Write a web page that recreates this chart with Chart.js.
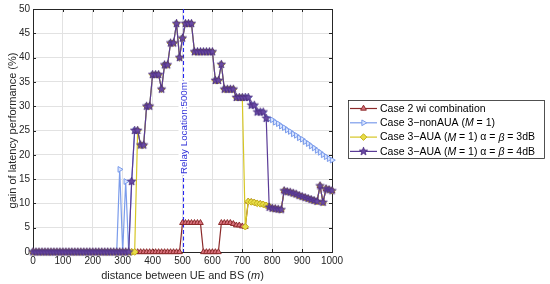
<!DOCTYPE html>
<html>
<head>
<meta charset="utf-8">
<script src="https://cdn.jsdelivr.net/npm/chart.js@4.4.1/dist/chart.umd.min.js"></script>
<style>
  html, body { margin: 0; padding: 0; background: #fff; }
  #wrap { width: 550px; height: 284px; }
</style>
</head>
<body>
<div id="wrap"><canvas id="chart" width="550" height="284"></canvas></div>
<script>
// distance between UE and BS (m), one sample every 10 m
const distances = [
  0, 10, 20, 30, 40, 50, 60, 70, 80, 90,
  100, 110, 120, 130, 140, 150, 160, 170, 180, 190,
  200, 210, 220, 230, 240, 250, 260, 270, 280, 290,
  300, 310, 320, 330, 340, 350, 360, 370, 380, 390,
  400, 410, 420, 430, 440, 450, 460, 470, 480, 490,
  500, 510, 520, 530, 540, 550, 560, 570, 580, 590,
  600, 610, 620, 630, 640, 650, 660, 670, 680, 690,
  700, 710, 720, 730, 740, 750, 760, 770, 780, 790,
  800, 810, 820, 830, 840, 850, 860, 870, 880, 890,
  900, 910, 920, 930, 940, 950, 960, 970, 980, 990,
  1000
];

// gain of latency performance (%)
const case2Combination = [
  0, 0, 0, 0, 0, 0, 0, 0, 0, 0,
  0, 0, 0, 0, 0, 0, 0, 0, 0, 0,
  0, 0, 0, 0, 0, 0, 0, 0, 0, 0,
  0, 0, 0, 0, 0, 0, 0, 0, 0, 0,
  0, 0, 0, 0, 0, 0, 0, 0, 0, 0,
  6, 6, 6, 6, 6, 6, 6, 0, 0, 0,
  0, 0, 0, 6, 6, 6, 6, 5.8, 5.5, 5.5,
  5.3, 5.2, 10.4, 10.3, 10.2, 10.0, 9.9, 9.8, 9.6, 9.4,
  9.0, 8.9, 8.8, 8.7, 12.6, 12.4, 12.3, 12.1, 11.9, 11.6,
  11.4, 11.2, 11.0, 10.8, 10.6, 10.4, 13.6, 10.2, 13.0, 12.8,
  12.6
];

const case3NonAUA = [
  0, 0, 0, 0, 0, 0, 0, 0, 0, 0,
  0, 0, 0, 0, 0, 0, 0, 0, 0, 0,
  0, 0, 0, 0, 0, 0, 0, 0, 0, 17,
  0, 14.5, 0, 14.5, 25, 25, 22, 22, 30, 30,
  36.5, 36.5, 36.5, 33.5, 38.5, 38.5, 43, 43, 47, 40,
  44, 47, 47, 47, 41.2, 41.2, 41.2, 41.2, 41.2, 41.2,
  41.2, 35.3, 35.3, 38.6, 33.5, 33.5, 33.5, 33.5, 31.8, 31.8,
  31.8, 31.8, 31.8, 30.2, 30.2, 28.8, 28.8, 28.8, 27.5, 27.4,
  27.2, 26.7, 26.4, 25.9, 25.6, 25.1, 24.8, 24.3, 24.0, 23.5,
  23.2, 22.7, 22.3, 21.8, 21.4, 20.9, 20.5, 20.0, 19.6, 19.2,
  18.9
];

const case3AUA3dB = [
  0, 0, 0, 0, 0, 0, 0, 0, 0, 0,
  0, 0, 0, 0, 0, 0, 0, 0, 0, 0,
  0, 0, 0, 0, 0, 0, 0, 0, 0, 0,
  0, 0, 0, 0, 0, 25, 22, 22, 30, 30,
  36.5, 36.5, 36.5, 33.5, 38.5, 38.5, 43, 43, 47, 40,
  44, 47, 47, 47, 41.2, 41.2, 41.2, 41.2, 41.2, 41.2,
  41.2, 35.3, 35.3, 38.6, 33.5, 33.5, 33.5, 33.5, 31.8, 31.8,
  31.8, 5.2, 10.4, 10.3, 10.2, 10.0, 9.9, 9.8, 9.6, 9.4,
  9.0, 8.9, 8.8, 8.7, 12.6, 12.4, 12.3, 12.1, 11.9, 11.6,
  11.4, 11.2, 11.0, 10.8, 10.6, 10.4, 13.6, 10.2, 13.0, 12.8,
  12.6
];

const case3AUA4dB = [
  0, 0, 0, 0, 0, 0, 0, 0, 0, 0,
  0, 0, 0, 0, 0, 0, 0, 0, 0, 0,
  0, 0, 0, 0, 0, 0, 0, 0, 0, 0,
  0, 0, 0, 14.5, 25, 25, 22, 22, 30, 30,
  36.5, 36.5, 36.5, 33.5, 38.5, 38.5, 43, 43, 47, 40,
  44, 47, 47, 47, 41.2, 41.2, 41.2, 41.2, 41.2, 41.2,
  41.2, 35.3, 35.3, 38.6, 33.5, 33.5, 33.5, 33.5, 31.8, 31.8,
  31.8, 31.8, 31.8, 30.2, 30.2, 28.8, 28.8, 28.8, 27.5, 9.2,
  9.0, 8.9, 8.8, 8.7, 12.6, 12.4, 12.3, 12.1, 11.9, 11.6,
  11.4, 11.2, 11.0, 10.8, 10.6, 10.4, 13.6, 10.2, 13.0, 12.8,
  12.6
];

const legendLabels = [
  'Case 2 wi combination',
  'Case 3\u2212nonAUA (<i>M</i> = 1)',
  'Case 3\u2212AUA (<i>M</i> = 1) \u03b1 = <i>\u03b2</i> = 3dB',
  'Case 3\u2212AUA (<i>M</i> = 1) \u03b1 = <i>\u03b2</i> = 4dB'
];

const xTicks = [0, 100, 200, 300, 400, 500, 600, 700, 800, 900, 1000];
const yTicks = [0, 5, 10, 15, 20, 25, 30, 35, 40, 45, 50];
const relayDistance = 500;
const relayText = 'Relay Location:500m';

const FONT = "'Liberation Sans', Arial, Helvetica, sans-serif";
const textColor = '#262626';
const gridColor = '#e2e2e2';

// pentagram marker like MATLAB 'p'
function makeStar(fill, stroke, r) {
  const c = document.createElement('canvas');
  const s = Math.ceil(r * 2 + 2);
  c.width = s; c.height = s;
  const g = c.getContext('2d');
  g.beginPath();
  for (let i = 0; i < 10; i++) {
    const a = -Math.PI / 2 + i * Math.PI / 5;
    const rr = i % 2 ? r * 0.42 : r;
    g.lineTo(s / 2 + rr * Math.cos(a), s / 2 + rr * Math.sin(a));
  }
  g.closePath();
  g.fillStyle = fill;
  g.fill();
  g.strokeStyle = stroke;
  g.lineWidth = 0.8;
  g.stroke();
  return c;
}

const pts = ys => distances.map((d, i) => ({ x: d, y: ys[i] }));

// draw text with <i>..</i> parts in italic
function drawRich(ctx, str, x, y, size) {
  const parts = str.split(/(<i>.*?<\/i>)/).filter(p => p.length);
  parts.forEach(p => {
    const it = p.startsWith('<i>');
    const t = it ? p.slice(3, -4) : p;
    ctx.font = (it ? 'italic ' : '') + size + 'px ' + FONT;
    ctx.fillText(t, x, y);
    x += ctx.measureText(t).width;
  });
}
function richWidth(ctx, str, size) {
  let w = 0;
  str.split(/(<i>.*?<\/i>)/).filter(p => p.length).forEach(p => {
    const it = p.startsWith('<i>');
    const t = it ? p.slice(3, -4) : p;
    ctx.font = (it ? 'italic ' : '') + size + 'px ' + FONT;
    w += ctx.measureText(t).width;
  });
  return w;
}

const decorPlugin = {
  id: 'decor',
  beforeDatasetsDraw(chart) {
    const { ctx, chartArea: a, scales } = chart;
    ctx.save();
    // box
    ctx.strokeStyle = textColor;
    ctx.lineWidth = 1;
    ctx.strokeRect(Math.round(a.left) + 0.5, Math.round(a.top) + 0.5,
      Math.round(a.right - a.left), Math.round(a.bottom - a.top));
    // inward ticks
    ctx.beginPath();
    xTicks.forEach(v => {
      const px = Math.round(scales.x.getPixelForValue(v)) + 0.5;
      ctx.moveTo(px, a.bottom); ctx.lineTo(px, a.bottom - 3);
      ctx.moveTo(px, a.top); ctx.lineTo(px, a.top + 3);
    });
    yTicks.forEach(v => {
      const py = Math.round(scales.y.getPixelForValue(v)) + 0.5;
      ctx.moveTo(a.left, py); ctx.lineTo(a.left + 3, py);
      ctx.moveTo(a.right, py); ctx.lineTo(a.right - 3, py);
    });
    ctx.stroke();

    // relay line
    const rx = Math.round(scales.x.getPixelForValue(relayDistance)) + 0.5;
    ctx.strokeStyle = '#2626f2';
    ctx.lineWidth = 1.1;
    ctx.setLineDash([4, 2.5]);
    ctx.beginPath();
    ctx.moveTo(rx, a.top);
    ctx.lineTo(rx, a.bottom);
    ctx.stroke();
    ctx.setLineDash([]);
    const ty = scales.y.getPixelForValue(25.5);
    ctx.translate(rx, ty);
    ctx.rotate(-Math.PI / 2);
    ctx.font = '9.8px ' + FONT;
    const tw = ctx.measureText(relayText).width;
    ctx.fillStyle = '#fff';
    ctx.fillRect(-tw / 2 - 1, -5, tw + 2, 10);
    ctx.fillStyle = '#3232d8';
    ctx.textAlign = 'center';
    ctx.textBaseline = 'middle';
    ctx.fillText(relayText, 0, 0.5);
    ctx.restore();
  },
  afterDraw(chart) {
    const { ctx, chartArea: a } = chart;
    ctx.save();
    ctx.fillStyle = textColor;
    ctx.textBaseline = 'middle';
    // axis titles
    const xt = 'distance between UE and BS (<i>m</i>)';
    const xw = richWidth(ctx, xt, 11);
    drawRich(ctx, xt, (a.left + a.right) / 2 - xw / 2, 275.5, 11);
    ctx.save();
    ctx.translate(13, (a.top + a.bottom) / 2);
    ctx.rotate(-Math.PI / 2);
    ctx.font = '11px ' + FONT;
    ctx.textAlign = 'center';
    ctx.fillText('gain of latency performance (%)', 0, 0);
    ctx.restore();

    // legend
    const x0 = 348.5, y0 = 100.5, w = 196, h = 58;
    ctx.fillStyle = '#fff';
    ctx.fillRect(x0, y0, w, h);
    ctx.strokeStyle = textColor;
    ctx.lineWidth = 0.8;
    ctx.strokeRect(x0, y0, w, h);
    chart.data.datasets.forEach((ds, k) => {
      const y = y0 + 8 + k * 14.3;
      ctx.strokeStyle = ds.borderColor;
      ctx.lineWidth = ds.borderWidth;
      ctx.beginPath();
      ctx.moveTo(x0 + 1.5, y);
      ctx.lineTo(x0 + 28.5, y);
      ctx.stroke();
      ctx.fillStyle = ds.pointBackgroundColor;
      ctx.strokeStyle = ds.pointBorderColor;
      ctx.lineWidth = 1;
      Chart.helpers.drawPoint(ctx, {
        pointStyle: ds.pointStyle, rotation: ds.pointRotation || 0,
        radius: ds.pointRadius, borderWidth: 1
      }, x0 + 15, y);
      ctx.fillStyle = '#000';
      drawRich(ctx, legendLabels[k], x0 + 31.5, y + 0.5, 10.5);
    });
    ctx.restore();
  }
};

Chart.defaults.font.family = FONT;

new Chart(document.getElementById('chart'), {
  type: 'line',
  data: {
    datasets: [
      {
        label: 'Case 2 wi combination',
        data: pts(case2Combination),
        borderColor: '#8b2a2a', borderWidth: 1.2,
        pointStyle: 'triangle', pointRadius: 3.3,
        pointBorderColor: '#8b2a2a', pointBackgroundColor: '#d9707c',
        pointBorderWidth: 1, order: 4, clip: false
      },
      {
        label: 'Case 3-nonAUA',
        data: pts(case3NonAUA),
        borderColor: '#7b9ceb', borderWidth: 1.2,
        pointStyle: 'triangle', pointRotation: 90, pointRadius: 3.3,
        pointBorderColor: '#7b9ceb', pointBackgroundColor: '#d8e4ff',
        pointBorderWidth: 1, order: 3, clip: false
      },
      {
        label: 'Case 3-AUA 3dB',
        data: pts(case3AUA3dB),
        borderColor: '#d6c624', borderWidth: 1.2,
        pointStyle: 'rectRot', pointRadius: 3.3,
        pointBorderColor: '#c2b21a', pointBackgroundColor: '#e8dc48',
        pointBorderWidth: 1, order: 2, clip: false
      },
      {
        label: 'Case 3-AUA 4dB',
        data: pts(case3AUA4dB),
        borderColor: '#5a3b96', borderWidth: 1.2,
        pointStyle: makeStar('#6a4aa4', '#48297c', 4.3), pointRadius: 4,
        pointBorderColor: '#48297c', pointBackgroundColor: '#6a4aa4',
        order: 1, clip: false
      }
    ]
  },
  options: {
    responsive: false,
    animation: false,
    layout: { padding: { left: 0, top: 9, right: 218, bottom: 0 } },
    plugins: { legend: { display: false }, tooltip: { enabled: false } },
    scales: {
      x: {
        type: 'linear', min: 0, max: 1000,
        afterBuildTicks: s => { s.ticks = xTicks.map(v => ({ value: v })); },
        afterFit: s => { s.height = 32; },
        grid: { color: gridColor, drawTicks: false },
        border: { display: false },
        ticks: {
          padding: 3, color: textColor, font: { size: 10 }, maxRotation: 0, autoSkip: false,
          callback: v => String(v)
        }
      },
      y: {
        min: 0, max: 50,
        afterBuildTicks: s => { s.ticks = yTicks.map(v => ({ value: v })); },
        afterFit: s => { s.width = 33; },
        grid: { color: gridColor, drawTicks: false },
        border: { display: false },
        ticks: { padding: 3, color: textColor, font: { size: 10 }, autoSkip: false, callback: v => String(v) }
      }
    }
  },
  plugins: [decorPlugin]
});
</script>
</body>
</html>
